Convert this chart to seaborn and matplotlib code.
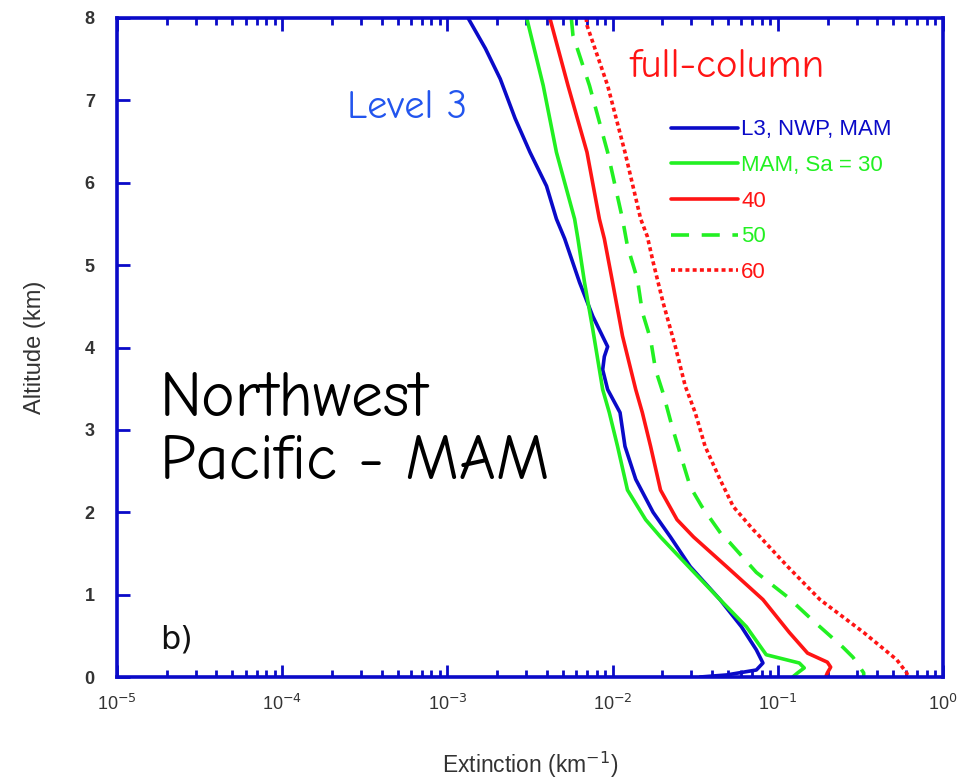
import numpy as np
import pandas as pd
import matplotlib
matplotlib.use("Agg")
import matplotlib.pyplot as plt
import seaborn as sns
from matplotlib.ticker import LogLocator, FixedLocator, NullFormatter

# ---- data: altitude (km) and log10 extinction (km^-1) ----
alt_l3 = [8.00, 7.63, 7.26, 6.78, 6.37, 5.96, 5.56, 5.32, 4.79, 4.38, 4.01, 3.89, 3.73, 3.49,
          3.21, 2.80, 2.40, 2.00, 1.70, 1.34, 0.94, 0.61, 0.33, 0.17, 0.085, 0.025, 0.0]
log_l3 = [-2.875, -2.77, -2.68, -2.59, -2.50, -2.40, -2.34, -2.29, -2.20, -2.12, -2.03, -2.05, -2.06, -2.03,
          -1.955, -1.925, -1.86, -1.755, -1.65, -1.53, -1.35, -1.22, -1.13, -1.09, -1.13, -1.31, -1.47]

alt_sa30 = [8.00, 7.18, 6.37, 5.56, 5.32, 4.79, 4.22, 3.49, 3.21, 2.80, 2.27, 1.91, 1.70, 1.34,
            0.94, 0.61, 0.27, 0.17, 0.11, 0.05, 0.0]
log_sa30 = [-2.52, -2.42, -2.34, -2.23, -2.21, -2.17, -2.12, -2.06, -2.02, -1.97, -1.91, -1.80, -1.71, -1.54,
            -1.35, -1.19, -1.07, -0.87, -0.84, -0.88, -0.91]

alt_sa40 = [8.00, 7.18, 6.37, 5.56, 5.32, 4.79, 4.14, 3.49, 3.21, 2.80, 2.27, 1.91, 1.70, 1.34,
            0.94, 0.54, 0.29, 0.18, 0.12, 0.05, 0.0]
log_sa40 = [-2.38, -2.27, -2.155, -2.08, -2.05, -2.00, -1.94, -1.86, -1.82, -1.77, -1.71, -1.61, -1.51, -1.31,
            -1.09, -0.93, -0.82, -0.70, -0.68, -0.70, -0.71]

alt_sa50 = [8.00, 7.79, 7.18, 6.37, 5.56, 5.23, 4.83, 4.43, 4.10, 3.73, 3.45, 3.04, 2.64, 2.31, 2.07,
            1.70, 1.63, 1.27, 0.97, 0.69, 0.36, 0.24, 0.05, 0.0]
log_sa50 = [-2.25, -2.24, -2.14, -2.03, -1.94, -1.91, -1.85, -1.82, -1.77, -1.74, -1.695, -1.64, -1.58, -1.53, -1.46,
            -1.33, -1.29, -1.13, -0.94, -0.79, -0.605, -0.545, -0.48, -0.48]

alt_sa60 = [8.00, 7.91, 7.18, 6.37, 5.56, 5.35, 5.04, 4.55, 4.01, 3.53, 3.21, 2.80, 2.40, 2.07, 1.79,
            1.75, 1.34, 0.94, 0.54, 0.21, 0.05, 0.0]
log_sa60 = [-2.16, -2.155, -2.03, -1.925, -1.83, -1.79, -1.755, -1.695, -1.62, -1.56, -1.50, -1.44, -1.35, -1.27, -1.15,
            -1.13, -0.94, -0.745, -0.48, -0.28, -0.22, -0.21]

series_labels = ["L3, NWP, MAM", "MAM, Sa = 30", "40", "50", "60"]
x_tick_values = [1e-5, 1e-4, 1e-3, 1e-2, 1e-1, 1e0]
x_tick_labels = [r"10$^{-5}$", r"10$^{-4}$", r"10$^{-3}$", r"10$^{-2}$", r"10$^{-1}$", r"10$^{0}$"]
y_tick_values = [0, 1, 2, 3, 4, 5, 6, 7, 8]

sns.set_theme(style="white")
plt.rcParams['font.family'] = ['Liberation Sans', 'DejaVu Sans']

fig = plt.figure(figsize=(9.61, 7.82), dpi=100)
ax = fig.add_axes([117/961, 1-677/782, (943-117)/961, (677-18)/782])

blue = "#0a0ac8"
green = "#22f022"
red = "#ff1414"
series = [
    (alt_l3, log_l3, blue, "-"),
    (alt_sa30, log_sa30, green, "-"),
    (alt_sa40, log_sa40, red, "-"),
    (alt_sa50, log_sa50, green, (0, (5.0, 3.5))),
    (alt_sa60, log_sa60, red, (0, (1.1, 0.9))),
]
for (alts, vals, col, ls), lab in zip(series, series_labels):
    df = pd.DataFrame({"ext": 10 ** np.array(vals), "alt": alts})
    sns.lineplot(data=df, x="ext", y="alt", sort=False, estimator=None,
                 color=col, linewidth=2.6, ax=ax, label=lab, linestyle=ls)

ax.set_xscale("log")
ax.set_xlim(1e-5, 1e0)
ax.set_ylim(0, 8)
ax.xaxis.set_major_locator(FixedLocator(x_tick_values))
ax.set_xticklabels(x_tick_labels)
ax.xaxis.set_minor_locator(LogLocator(base=10, subs=np.arange(2, 10)))
ax.xaxis.set_minor_formatter(NullFormatter())
ax.set_yticks(y_tick_values)
for t in ax.get_yticklabels():
    t.set_fontweight("bold")

for s in ax.spines.values():
    s.set_color(blue)
    s.set_linewidth(2.6)

ax.tick_params(axis="x", which="major", direction="in", top=True, bottom=True,
               length=9, width=2, color=blue, labelsize=13, pad=12, labelcolor="#333333")
ax.tick_params(axis="x", which="minor", direction="in", top=True, bottom=True,
               length=5, width=2, color=blue)
ax.tick_params(axis="y", which="major", direction="in", left=True, right=False,
               length=9, width=2, color=blue, labelsize=13, pad=16, labelcolor="#333333")

ax.set_xlabel("Extinction (km$^{-1}$)", fontsize=16.5, color="#333333", labelpad=26)
ax.set_ylabel("Altitude (km)", fontsize=17, color="#333333", labelpad=28)

leg = ax.legend(loc="upper left", bbox_to_anchor=(0.671, 0.846), frameon=False,
                borderpad=0, borderaxespad=0,
                fontsize=16, handlelength=3.0, handletextpad=0.15,
                labelspacing=0.66, labelcolor="linecolor")

comic = ['Comic Neue', 'Open Sans', 'DejaVu Sans']
ax.text(0.621, 0.926, "full-column", transform=ax.transAxes, color=red,
        fontsize=29.5, family=comic, va="center", ha="left")
ax.text(0.278, 0.863, "Level 3", transform=ax.transAxes, color="#2255ee",
        fontsize=29, family=comic, va="center", ha="left")
ax.text(0.052, 0.372, "Northwest\nPacific - MAM", transform=ax.transAxes, color="black",
        fontsize=46, family=comic, va="center", ha="left", linespacing=1.13)
ax.text(0.052, 0.056, "b)", transform=ax.transAxes, color="#111111",
        fontsize=23, family=['DejaVu Sans'], va="center", ha="left")

fig.savefig("out.png", dpi=100)
